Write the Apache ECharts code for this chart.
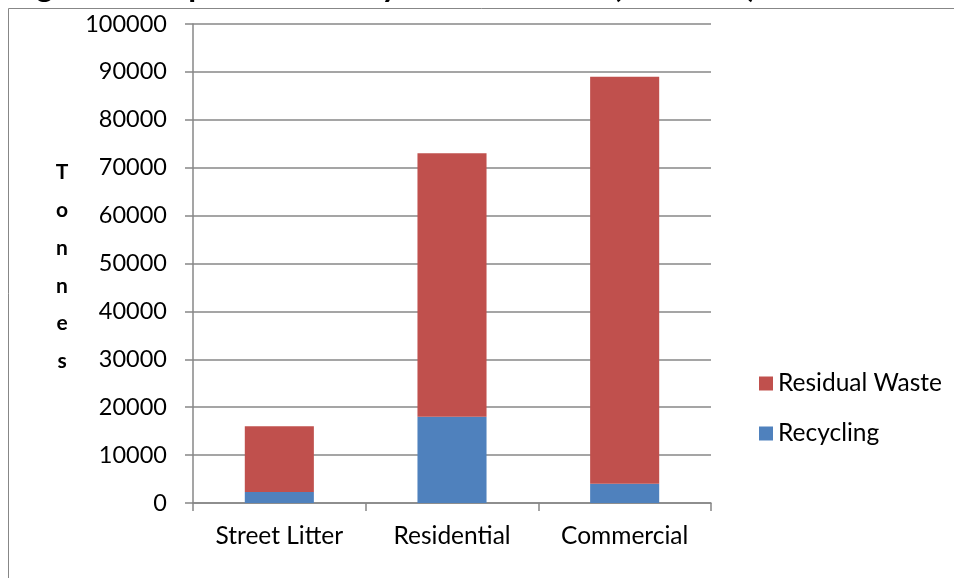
<!DOCTYPE html>
<html>
<head>
<meta charset="utf-8">
<script src="https://cdn.jsdelivr.net/npm/echarts@6/dist/echarts.min.js"></script>
<style>html,body{margin:0;padding:0;background:#fff}#c{width:954px;height:578px}</style>
</head>
<body>
<div id="c"></div>
<script>
var titleText = 'Figure 3: Disposal Route by Waste Stream (2015/16)';
var axisTitle = 'Tonnes';
var categories = ['Street Litter', 'Residential', 'Commercial'];
var recycling = [2300, 18000, 4000];
var residualWaste = [13700, 55000, 85000];
var yTicks = { min: 0, max: 100000, interval: 10000 };

var chart = echarts.init(document.getElementById('c'));
var FONT = 'Lato';
chart.setOption({
  backgroundColor: '#fff',
  animation: false,
  textStyle: { fontFamily: FONT },
  graphic: [
    { type: 'rect', z: -1, shape: { x: 8.5, y: 8.5, width: 1200, height: 1200 }, style: { fill: 'none', stroke: '#878787', lineWidth: 1 } },
    { type: 'text', left: 10, top: -29, style: { text: titleText, font: 'bold 32px Lato', fill: '#000' } },
    { type: 'text', x: 62, y: 267, style: { text: axisTitle.split('').join('\n'), font: 'bold 21px Lato', fill: '#000', align: 'center', verticalAlign: 'middle', lineHeight: 37.8 } }
  ],
  grid: { left: 193, right: 243, top: 24, bottom: 75, containLabel: false },
  legend: {
    orient: 'vertical', left: 754, top: 366, itemWidth: 14, itemHeight: 14, itemGap: 25, icon: 'rect',
    data: ['Residual Waste', 'Recycling'],
    textStyle: { fontSize: 24.5, color: '#000', fontFamily: FONT }
  },
  xAxis: {
    type: 'category', data: categories,
    axisLine: { lineStyle: { color: '#878787', width: 1.5 } },
    axisTick: { show: true, length: 8, lineStyle: { color: '#878787', width: 1.5 } },
    axisLabel: { fontSize: 24.5, color: '#000', margin: 21 }
  },
  yAxis: {
    type: 'value', min: yTicks.min, max: yTicks.max, interval: yTicks.interval,
    axisLine: { show: true, lineStyle: { color: '#878787', width: 1.5 } },
    axisTick: { show: true, length: 8, lineStyle: { color: '#878787', width: 1.5 } },
    splitLine: { lineStyle: { color: '#878787', width: 1.5 } },
    axisLabel: { fontSize: 23.5, color: '#000', margin: 26, formatter: function (v) { return String(v); } }
  },
  series: [
    { name: 'Recycling', type: 'bar', stack: 't', data: recycling, barCategoryGap: '60%', itemStyle: { color: '#4F81BD' } },
    { name: 'Residual Waste', type: 'bar', stack: 't', data: residualWaste, barCategoryGap: '60%', itemStyle: { color: '#C0504D' } }
  ]
});
</script>
</body>
</html>
